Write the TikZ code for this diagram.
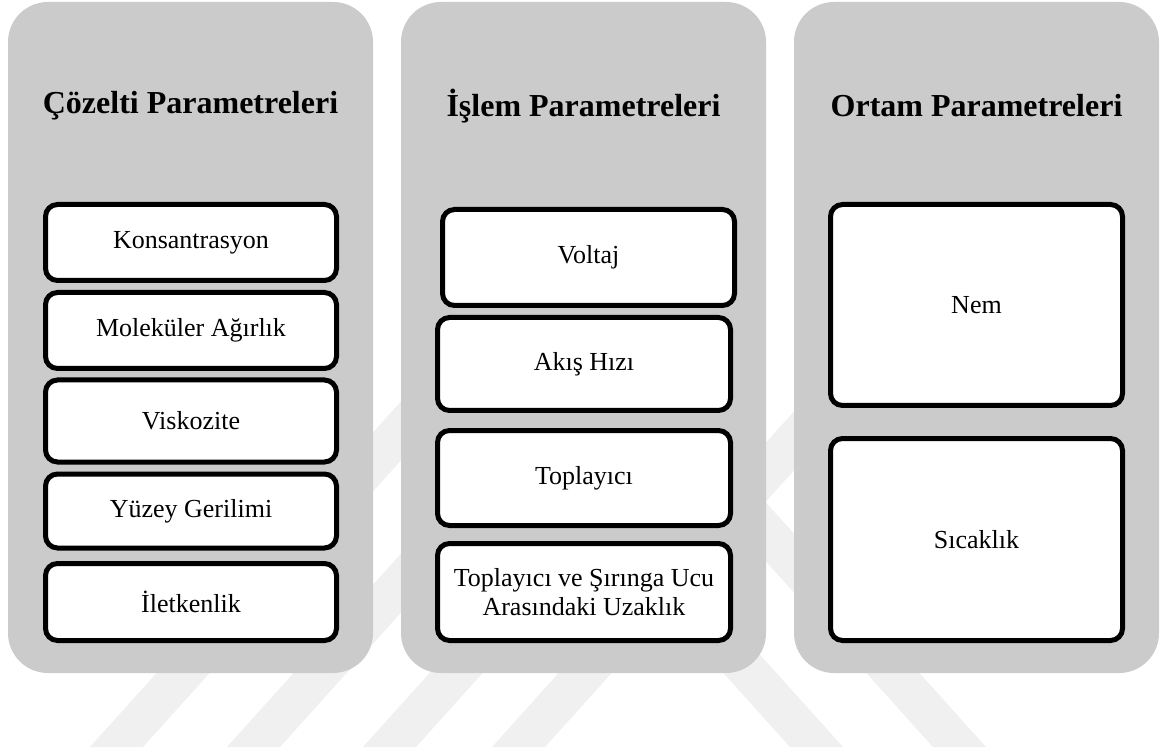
\documentclass[tikz,border=0pt]{standalone}
\usepackage{fontspec}
\setmainfont{Liberation Serif}
\definecolor{panelgray}{HTML}{CBCBCB}
\definecolor{wmgray}{HTML}{F0F0F0}
\tikzset{
  panel/.style={fill=panelgray, draw=none, rounded corners=40pt, inner sep=0pt},
  paneltitle/.style={font=\fontsize{32}{38}\selectfont\bfseries, inner sep=0pt},
  itembox/.style={fill=white, draw=black, line width=5pt, rounded corners=12pt,
    font=\fontsize{26}{29}\selectfont, align=center, inner sep=0pt},
  wm/.style={fill=wmgray}
}
\begin{document}
\begin{tikzpicture}[x=1pt,y=-1pt]
\useasboundingbox (0,0) rectangle (1160,751);
\fill[white] (0,0) rectangle (1160,751);
% faint watermark stripes
\foreach \bx/\ty in {90/300,227/300,363/370,492/300}{
  \fill[wm] (\bx,747) -- ({\bx+53},747) -- ({\bx+53+0.9*(747-\ty)},\ty) -- ({\bx+0.9*(747-\ty)},\ty) -- cycle;
}
\foreach \bx/\ty in {790/400,933/400}{
  \fill[wm] (\bx,747) -- ({\bx+53},747) -- ({\bx+53-0.9*(747-\ty)},\ty) -- ({\bx-0.9*(747-\ty)},\ty) -- cycle;
}
% panels
\node[panel, minimum width=365pt, minimum height=671pt] (p1) at (190.5,337.5) {};
\node[panel, minimum width=365pt, minimum height=671pt] (p2) at (583.5,337.5) {};
\node[panel, minimum width=365pt, minimum height=671pt] (p3) at (976.5,337.5) {};
% titles
\node[paneltitle] (t1) at (190.5,106) {Çözelti Parametreleri};
\node[paneltitle] (t2) at (583.5,106) {İşlem Parametreleri};
\node[paneltitle] (t3) at (976.5,106) {Ortam Parametreleri};
% column 1
\node[itembox, minimum width=291pt, minimum height=76pt] (a1) at (191,242.5) {Konsantrasyon};
\node[itembox, minimum width=291pt, minimum height=76pt] (a2) at (191,330.5) {Moleküler Ağırlık};
\node[itembox, minimum width=291pt, minimum height=82pt] (a3) at (191,421) {Viskozite};
\node[itembox, minimum width=291pt, minimum height=74pt] (a4) at (191,511) {Yüzey Gerilimi};
\node[itembox, minimum width=291pt, minimum height=77pt] (a5) at (191,602) {İletkenlik};
% column 2
\node[itembox, minimum width=292pt, minimum height=96pt] (b1) at (588.5,257.5) {Voltaj};
\node[itembox, minimum width=293pt, minimum height=93pt] (b2) at (584,364) {Akış Hızı};
\node[itembox, minimum width=293pt, minimum height=95pt] (b3) at (584,478) {Toplayıcı};
\node[itembox, minimum width=293pt, minimum height=97pt] (b4) at (584,592) {Toplayıcı ve Şırınga Ucu\\Arasındaki Uzaklık};
% column 3
\node[itembox, minimum width=292pt, minimum height=201pt] (c1) at (976.5,305) {Nem};
\node[itembox, minimum width=292pt, minimum height=202pt] (c2) at (976.5,539.5) {Sıcaklık};
\end{tikzpicture}
\end{document}
